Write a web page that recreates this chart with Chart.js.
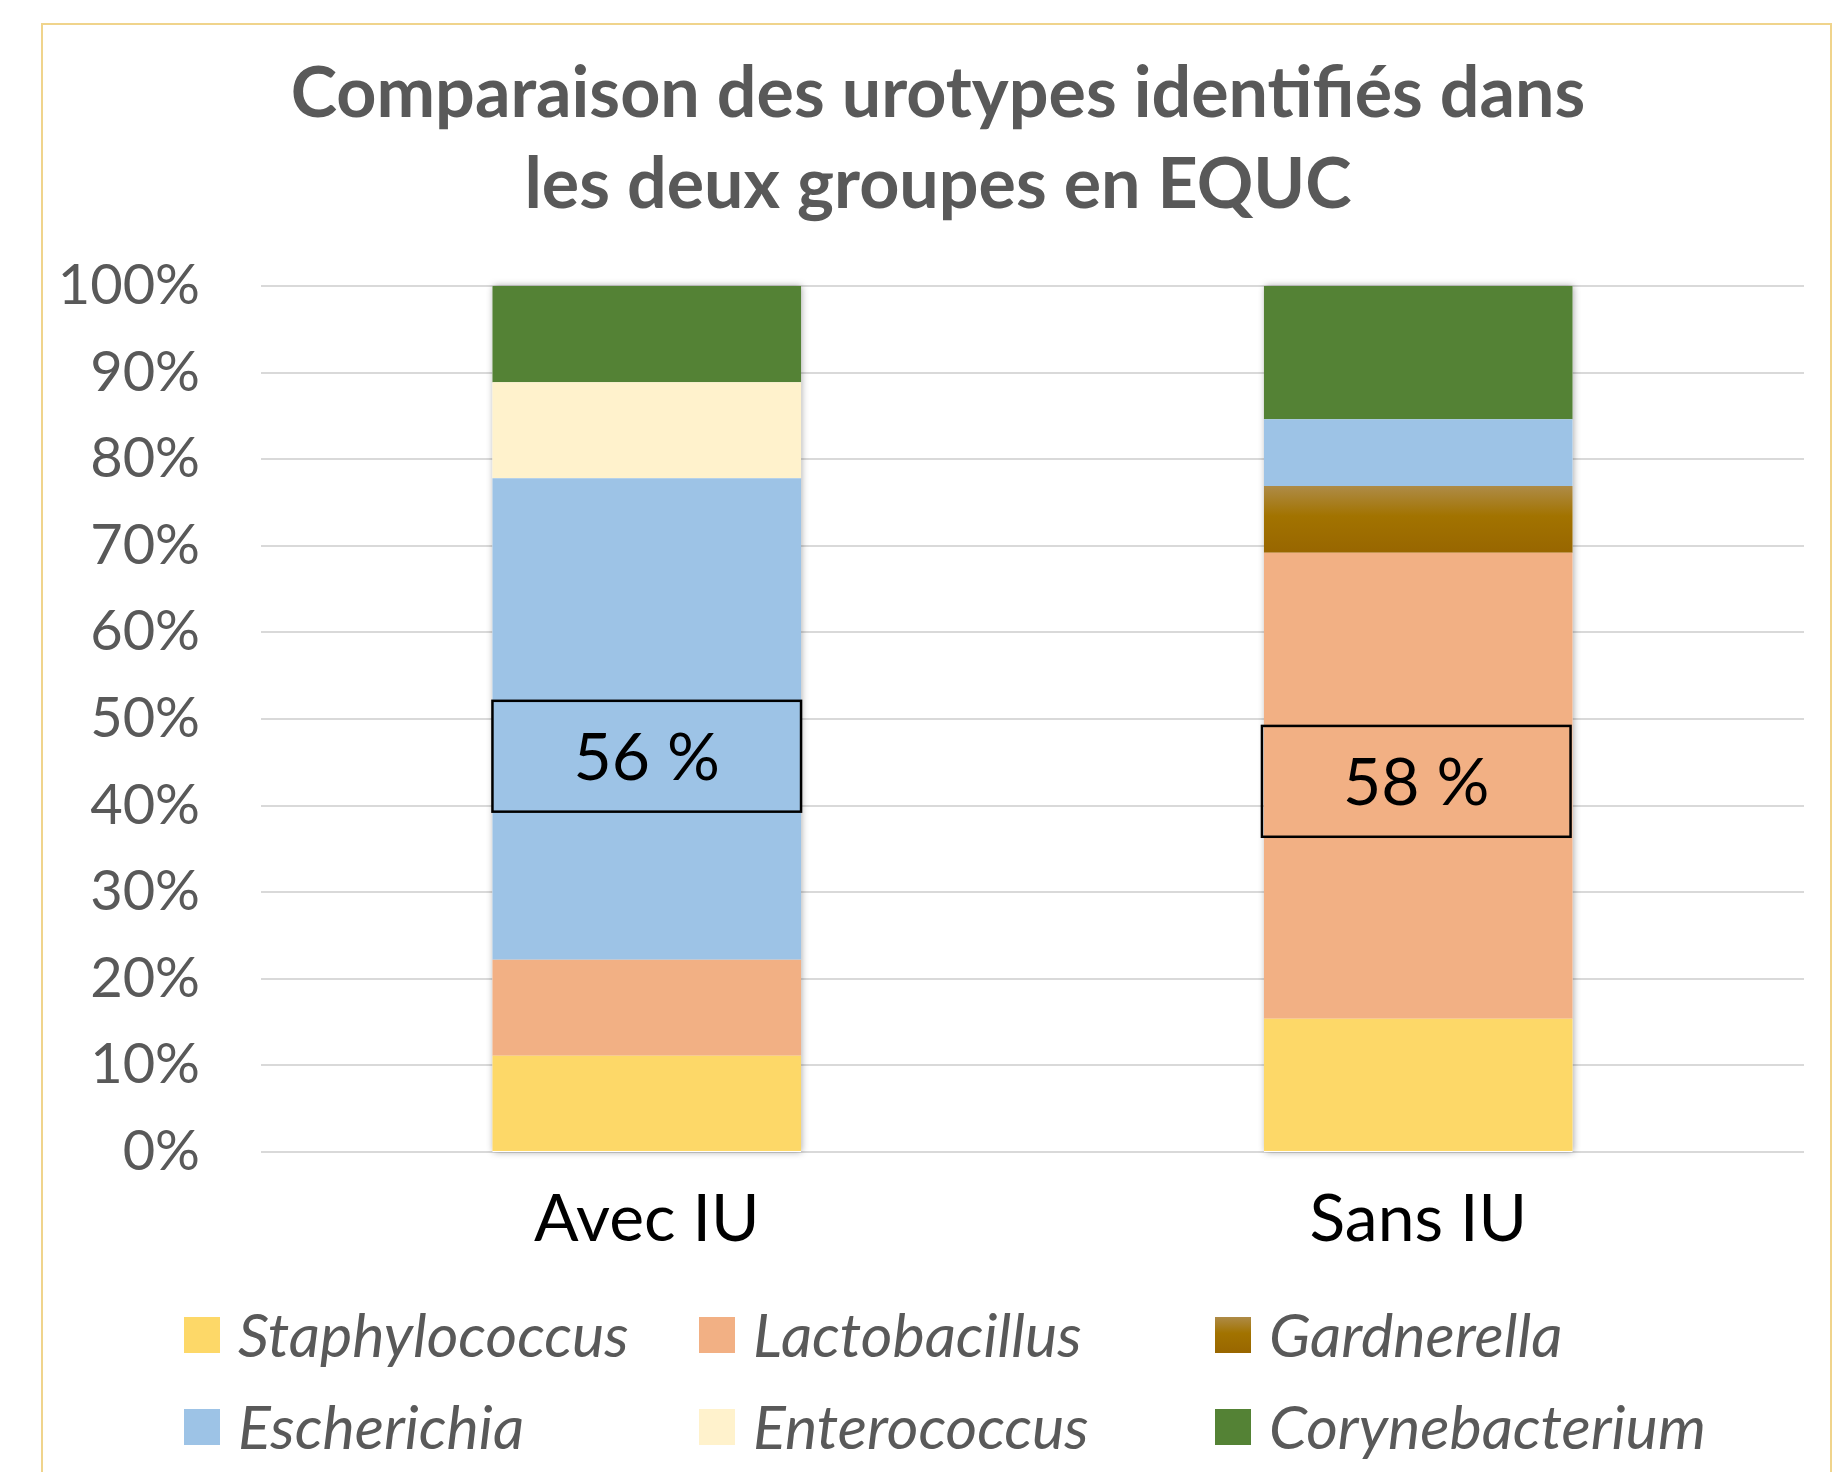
<!DOCTYPE html>
<html>
<head>
<meta charset="utf-8">
<script src="https://cdn.jsdelivr.net/npm/chart.js@4/dist/chart.umd.min.js"></script>
<style>
  html, body { margin: 0; padding: 0; background: #ffffff; overflow: hidden; }
  #wrap { position: relative; width: 1839px; height: 1472px; }
  #frame { position: absolute; left: 41px; top: 23px; width: 1791px; height: 1500px; border: 2px solid #F0D48C; box-sizing: border-box; pointer-events: none; }
  canvas { position: absolute; left: 0; top: 0; }
</style>
</head>
<body>
<div id="wrap">
  <canvas id="c" width="1839" height="1472"></canvas>
  <div id="frame"></div>
</div>
<script>
// ---- Data (percent of urotypes per group) ----
const categories = ['Avec IU', 'Sans IU'];
const staphylococcus  = [11.1, 15.4];
const lactobacillus   = [11.1, 53.8];
const gardnerella     = [0,    7.7];
const escherichia     = [55.6, 7.7];
const enterococcus    = [11.1, 0];
const corynebacterium = [11.1, 15.4];
const seriesNames = ['Staphylococcus', 'Lactobacillus', 'Gardnerella', 'Escherichia', 'Enterococcus', 'Corynebacterium'];
const yTickValues = [0, 10, 20, 30, 40, 50, 60, 70, 80, 90, 100];
const boxLabels = ['56 %', '58 %'];
const titleLines = ['Comparaison des urotypes identifiés dans', 'les deux groupes en EQUC'];

const FONT = 'Lato, "Open Sans", "Noto Sans", sans-serif';
const GRAY = '#595959';

function gardGradient(ctx, top, bot) {
  const g = ctx.createLinearGradient(0, top, 0, bot);
  g.addColorStop(0, '#AE8B47');
  g.addColorStop(0.45, '#A27300');
  g.addColorStop(1, '#986600');
  return g;
}

function gardnerellaColor(c) {
  const chart = c.chart;
  const y = chart.scales && chart.scales.y;
  if (!y || c.type !== 'data' || !chart.chartArea) return '#A06E00';
  const i = c.dataIndex;
  let base = 0;
  for (let d = 0; d < c.datasetIndex; d++) base += chart.data.datasets[d].data[i];
  const top = y.getPixelForValue(base + chart.data.datasets[c.datasetIndex].data[i]);
  const bot = y.getPixelForValue(base);
  if (!isFinite(top) || !isFinite(bot) || top === bot) return '#A06E00';
  return gardGradient(chart.ctx, top, bot);
}

const seriesData = [staphylococcus, lactobacillus, gardnerella, escherichia, enterococcus, corynebacterium];
const seriesColors = ['#FDD868', '#F2B084', gardnerellaColor, '#9DC3E6', '#FFF2CC', '#548235'];

// Title drawn centred on the frame
const frameTitle = {
  id: 'frameTitle',
  afterDraw(chart, args, opts) {
    const ctx = chart.ctx;
    ctx.save();
    ctx.fillStyle = GRAY;
    ctx.font = 'bold 70px ' + FONT;
    ctx.textAlign = 'center';
    ctx.textBaseline = 'middle';
    titleLines.forEach((t, k) => ctx.fillText(t, opts.cx, opts.lineY[k]));
    ctx.restore();
  }
};

// Shadow behind whole stacked bars
const barShadow = {
  id: 'barShadow',
  beforeDatasetsDraw(chart) {
    const ctx = chart.ctx, y = chart.scales.y;
    const meta0 = chart.getDatasetMeta(0);
    meta0.data.forEach((bar, i) => {
      let total = 0;
      chart.data.datasets.forEach(ds => total += ds.data[i]);
      const top = y.getPixelForValue(total), bot = y.getPixelForValue(0);
      const half = bar.width / 2;
      ctx.save();
      ctx.shadowColor = 'rgba(0,0,0,0.35)';
      ctx.shadowBlur = 7;
      ctx.shadowOffsetX = 1;
      ctx.fillStyle = '#ffffff';
      ctx.fillRect(bar.x - half, top, bar.width, bot - top);
      ctx.restore();
    });
  }
};

// Boxed percentage annotations
const boxAnnot = {
  id: 'boxAnnot',
  afterDatasetsDraw(chart, args, opts) {
    const ctx = chart.ctx, y = chart.scales.y;
    const meta0 = chart.getDatasetMeta(0);
    meta0.data.forEach((bar, i) => {
      const top = y.getPixelForValue(opts.tops[i]);
      const bot = y.getPixelForValue(opts.bottoms[i]);
      const left = bar.x - bar.width / 2 + opts.dx[i];
      ctx.save();
      ctx.strokeStyle = '#000000';
      ctx.lineWidth = 2.5;
      ctx.strokeRect(left, top, bar.width, bot - top);
      ctx.fillStyle = '#000000';
      ctx.font = '400 66px ' + FONT;
      ctx.textAlign = 'center';
      ctx.textBaseline = 'middle';
      ctx.fillText(boxLabels[i], left + bar.width / 2, (top + bot) / 2 + 2);
      ctx.restore();
    });
  }
};

// Grid legend in 3 columns
const gridLegend = {
  id: 'gridLegend',
  afterDraw(chart, args, opts) {
    const ctx = chart.ctx;
    chart.data.datasets.forEach((ds, k) => {
      const col = k % 3, row = Math.floor(k / 3);
      const x = opts.colX[col], cy = opts.rowY[row];
      const s = opts.box;
      ctx.save();
      ctx.fillStyle = (typeof seriesColors[k] === 'function') ? gardGradient(ctx, cy - s / 2, cy + s / 2) : seriesColors[k];
      ctx.fillRect(x, cy - s / 2, s, s);
      ctx.fillStyle = GRAY;
      ctx.font = 'italic 400 61px ' + FONT;
      ctx.textAlign = 'left';
      ctx.textBaseline = 'middle';
      ctx.fillText(ds.label, x + opts.textGap, cy + 2);
      ctx.restore();
    });
  }
};

const datasets = seriesNames.map((name, k) => ({
  label: name,
  data: seriesData[k],
  backgroundColor: seriesColors[k],
  borderWidth: 0,
  barPercentage: 0.4,
  categoryPercentage: 1.0,
}));

new Chart(document.getElementById('c'), {
  type: 'bar',
  data: { labels: categories, datasets },
  plugins: [barShadow, boxAnnot, gridLegend, frameTitle],
  options: {
    responsive: false,
    animation: false,
    events: [],
    layout: { padding: { left: 0, right: 35, top: 286, bottom: 0 } },
    plugins: {
      legend: { display: false },
      tooltip: { enabled: false },
      title: { display: false },
      frameTitle: { cx: 938, lineY: [94, 185] },
      boxAnnot: { tops: [52.1, 49.2], bottoms: [39.3, 36.4], dx: [0, -2] },
      gridLegend: { colX: [184, 699, 1215], rowY: [1335, 1427], box: 36, textGap: 54 }
    },
    scales: {
      x: {
        stacked: true,
        grid: { display: false, drawTicks: false },
        border: { display: false },
        ticks: { color: '#000000', font: { family: FONT, size: 66 }, padding: 28 },
        afterFit(scale) { scale.height = 320; }
      },
      y: {
        stacked: true,
        min: 0, max: 100,
        afterBuildTicks(scale) { scale.ticks = yTickValues.map(v => ({ value: v })); },
        grid: { color: '#D9D9D9', lineWidth: 2, drawTicks: false },
        border: { display: false },
        ticks: { color: GRAY, font: { family: FONT, size: 56 }, padding: 61, callback: v => v + '%' },
        afterFit(scale) { scale.width = 261; }
      }
    }
  }
});
</script>
</body>
</html>
